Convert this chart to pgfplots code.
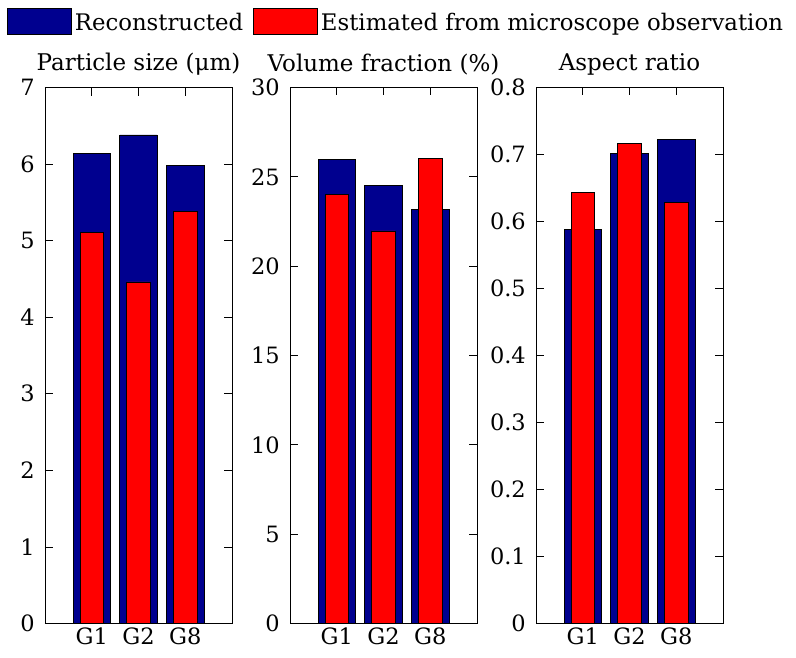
\documentclass[border=0pt]{standalone}
\usepackage{fontspec}
\setmainfont{DejaVu Serif}
\usepackage{pgfplots}
\pgfplotsset{compat=1.18}
\definecolor{mblue}{rgb}{0,0,0.5625}
\definecolor{mred}{rgb}{1,0,0}
\newcommand{\myfont}{\fontsize{23}{27}\selectfont}
\newcommand{\legfont}{\fontsize{22.8}{27}\selectfont}
\newcommand{\tickfont}{\fontsize{22.5}{26}\selectfont}
\pgfplotsset{
  mystyle/.style={
    scale only axis, width=187pt, height=536pt, anchor=south west,
    xmin=0, xmax=4, ymin=0,
    xtick={1,2,3}, xticklabels={G1,G2,G8},
    tick align=inside, xtick pos=both, ytick pos=both,
    xticklabel pos=lower, yticklabel pos=left,
    major tick length=8pt,
    tick style={black, line width=0.8pt},
    axis line style={black, line width=0.8pt},
    font=\myfont,
    ticklabel style={font=\tickfont},
    yticklabel style={inner sep=1pt, xshift=-9pt},
    xticklabel style={inner sep=1pt, yshift=-3pt},
    /pgf/number format/assume math mode=true,
    title style={at={(0.5,1)}, anchor=south, yshift=4pt, inner sep=2pt},
  },
  bluebar/.style={ybar, bar width=0.8, bar shift=0pt, fill=mblue, draw=black, line width=0.8pt},
  redbar/.style={ybar, bar width=0.5, bar shift=0pt, fill=mred, draw=black, line width=0.8pt},
}
\begin{document}
\begin{tikzpicture}
\path[use as bounding box] (0pt,0pt) rectangle (796pt,658pt);
\begin{axis}[mystyle, at={(45pt,34.5pt)}, ymax=7, ytick={0,1,...,7},
  title={Particle size (μm)},
  legend columns=2,
  legend style={draw=none, fill=none, at={(-0.204,1.149)}, anchor=north west,
    inner sep=0pt, font=\legfont,
    /tikz/every even column/.append style={column sep=7pt},
    nodes={inner sep=3pt}},
]
\addplot[bluebar, legend image code/.code={\draw[fill=mblue, draw=black, line width=0.8pt] (0pt,-12pt) rectangle (64pt,14pt);}]
  coordinates {(1,6.14) (2,6.38) (3,5.98)};
\addlegendentry{Reconstructed}
\addplot[redbar, legend image code/.code={\draw[fill=mred, draw=black, line width=0.8pt] (0pt,-12pt) rectangle (64pt,14pt);}]
  coordinates {(1,5.11) (2,4.46) (3,5.38)};
\addlegendentry{Estimated from microscope observation}
\end{axis}
\begin{axis}[mystyle, at={(290pt,34.5pt)}, ymax=30, ytick={0,5,...,30},
  title={Volume fraction (\%)}]
\addplot[bluebar] coordinates {(1,25.95) (2,24.53) (3,23.17)};
\addplot[redbar] coordinates {(1,23.99) (2,21.97) (3,26.03)};
\end{axis}
\begin{axis}[mystyle, at={(536pt,34.5pt)}, ymax=0.8, ytick={0,0.1,...,0.8},
  yticklabel style={/pgf/number format/fixed, /pgf/number format/precision=1},
  title={Aspect ratio}]
\addplot[bluebar] coordinates {(1,0.588) (2,0.702) (3,0.723)};
\addplot[redbar] coordinates {(1,0.643) (2,0.716) (3,0.628)};
\end{axis}
\end{tikzpicture}
\end{document}
